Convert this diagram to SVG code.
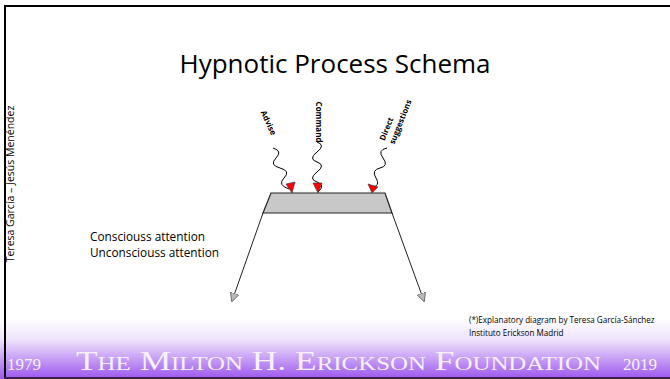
<svg xmlns="http://www.w3.org/2000/svg" width="670" height="379" viewBox="0 0 670 379">
<defs>
<linearGradient id="foot" x1="0" y1="0" x2="0" y2="1">
<stop offset="0" stop-color="#ffffff"/>
<stop offset="0.35" stop-color="#efe4fc"/>
<stop offset="1" stop-color="#9c56ee"/>
</linearGradient>
<marker id="gh" viewBox="0 0 10 10" refX="9" refY="5" markerWidth="9" markerHeight="9" markerUnits="userSpaceOnUse" orient="auto">
<path d="M0,0 L10,5 L0,10 Z" fill="#b8b8b8" stroke="#555" stroke-width="0.8"/>
</marker>
</defs>
<style>
.t{font-family:"Open Sans","Noto Sans",sans-serif;fill:#000}
.w{fill:none;stroke:#000;stroke-width:1}
.ah{fill:#ff0000;stroke:#333;stroke-width:0.6}
.lbl{font-family:"Open Sans","Noto Sans",sans-serif;font-weight:bold;font-size:8px;fill:#000}
.ft{font-family:"Liberation Serif","Times New Roman",serif;fill:#f7f1fd}
</style>
<rect width="670" height="379" fill="#ffffff"/>
<rect x="0" y="318" width="670" height="61" fill="url(#foot)"/>
<line x1="4" y1="6" x2="670" y2="6" stroke="#000" stroke-width="2"/>
<line x1="5" y1="5" x2="5" y2="379" stroke="#000" stroke-width="2"/>
<line x1="4" y1="378" x2="670" y2="378" stroke="#3a2050" stroke-width="2"/>

<text class="t" x="335" y="73" font-size="26" text-anchor="middle">Hypnotic Process Schema</text>
<text class="t" x="0" y="0" font-size="10.5" text-anchor="middle" fill="#222" transform="translate(14,184) rotate(-90)">Teresa García – Jesús Menéndez</text>

<g id="trap">
<polygon points="271,193 385,193 392,213 263,213" fill="#c8c8c8" stroke="#222" stroke-width="1.2"/>
</g>
<g id="labels">
<text class="t" x="90" y="241" font-size="11.8">Consciouss attention</text>
<text class="t" x="90" y="257" font-size="11.8">Unconsciouss attention</text>
</g>
<g id="advise">
<text class="lbl" x="0" y="0" text-anchor="middle" transform="translate(266,124) rotate(65)">Advise</text>
</g>
<g id="command">
<text class="lbl" x="0" y="0" text-anchor="middle" transform="translate(316,122) rotate(90)">Command</text>
</g>
<g id="direct">
<text class="lbl" x="0" y="0" text-anchor="middle" transform="translate(389,130) rotate(-68)">Direct</text>
<text class="lbl" x="0" y="0" text-anchor="middle" transform="translate(403,123) rotate(-68)">suggestions</text>
</g>
<g id="connectors">
<path class="w" d="M273,148 q10,3 3,10 t4,10 t4,10 t5,11"/>
<path class="w" d="M317,142 q9,3 0,10 t0,10 t0,10 t0,10 t1,10"/>
<path class="w" d="M387,148 q-10,2 -4,10 t-3,10 t-4,10 t-4,9"/>
<polygon class="ah" points="286,184 295,182 292,193"/>
<polygon class="ah" points="313,183 322,183 318,193"/>
<polygon class="ah" points="368,184 378,187 372,193"/>
<line x1="263" y1="213" x2="232" y2="301" stroke="#222" stroke-width="1" marker-end="url(#gh)"/>
<line x1="392" y1="213" x2="424" y2="301" stroke="#222" stroke-width="1" marker-end="url(#gh)"/>
</g>

<text class="t" x="469" y="323" font-size="8.1">(*)Explanatory diagram by Teresa García-Sánchez</text>
<text class="t" x="469" y="336" font-size="8.1">Instituto Erickson Madrid</text>

<text class="ft" x="7" y="370" font-size="17">1979</text>
<text class="ft" x="76" y="370" font-size="27" font-variant="small-caps" textLength="525" lengthAdjust="spacingAndGlyphs">The Milton H. Erickson Foundation</text>
<text class="ft" x="623" y="370" font-size="17">2019</text>
</svg>
